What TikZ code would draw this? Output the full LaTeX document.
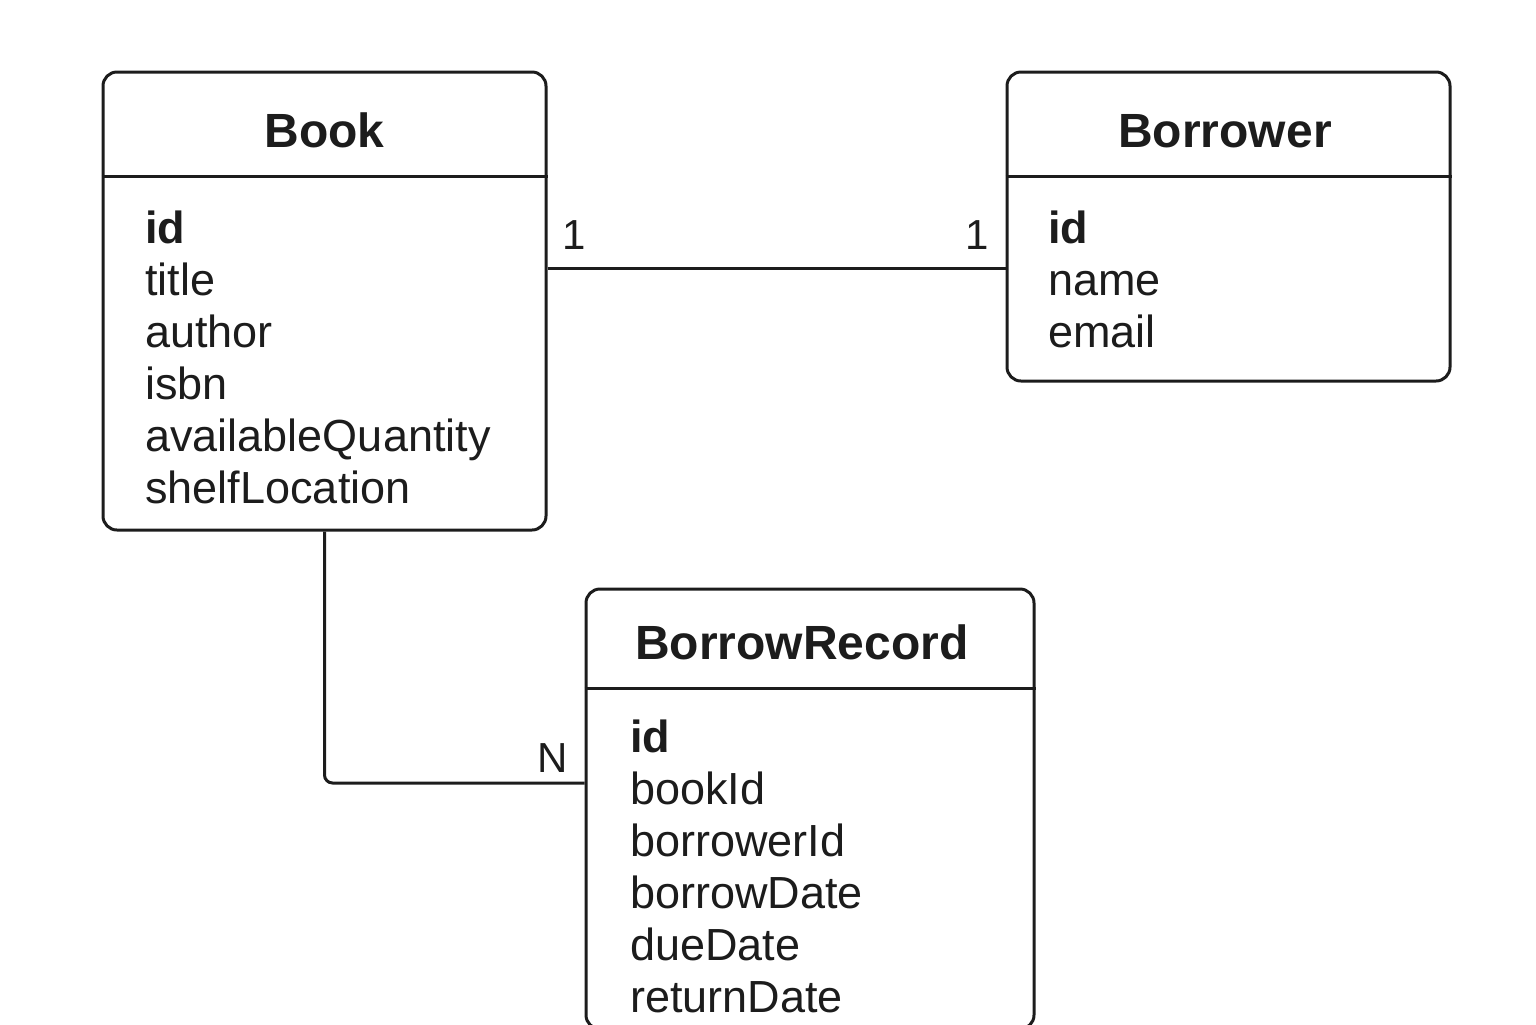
\documentclass[tikz,border=0pt]{standalone}
\usepackage{fontspec}
\setmainfont{Liberation Sans}
\usetikzlibrary{positioning}
\definecolor{ink}{HTML}{1C1C1C}
\tikzset{
	entity/.style={draw=ink, line width=1.5pt, rounded corners=7pt, inner sep=0pt},
	sepline/.style={draw=ink, line width=1.5pt},
	link/.style={draw=ink, line width=1.5pt},
	enttitle/.style={font=\fontsize{24}{28}\selectfont\bfseries, text=ink, anchor=base, inner sep=0pt},
	attr/.style={font=\fontsize{22.5}{26}\selectfont, text=ink, anchor=base west, inner sep=0pt},
	keyattr/.style={attr, font=\fontsize{22.5}{26}\selectfont\bfseries},
	card/.style={font=\fontsize{21}{24}\selectfont, text=ink, anchor=base, inner sep=0pt}
}

\begin{document}
\begin{tikzpicture}[x=0.5pt,y=-0.5pt]
	\useasboundingbox (0,0) rectangle (1536,1024);
	% Book
	\node[entity, minimum width=221.5pt, minimum height=229pt] (book) at (324.5,301) {};
	\draw[sepline] ([yshift=-53pt]book.north west)--([yshift=-53pt]book.north east);
	\node[enttitle] (bookname) at (324.5,147) {Book};
	\node[keyattr] (bookid) at (145,243) {id};
	\node[attr] (booktitle) at (145,295) {title};
	\node[attr] (bookauthor) at (145,347) {author};
	\node[attr] (bookisbn) at (145,399) {isbn};
	\node[attr] (bookqty) at (145,451) {availableQuantity};
	\node[attr] (bookshelf) at (145,503) {shelfLocation};
	% Borrower
	\node[entity, minimum width=221.5pt, minimum height=154.5pt] (borrower) at (1228.5,226.5) {};
	\draw[sepline] ([yshift=-53pt]borrower.north west)--([yshift=-53pt]borrower.north east);
	\node[enttitle] (borrowername) at (1225,147) {Borrower};
	\node[keyattr] (borrowerid) at (1048,243) {id};
	\node[attr] (borrowerfullname) at (1048,295) {name};
	\node[attr] (borroweremail) at (1048,347) {email};
	% BorrowRecord
	\node[entity, minimum width=224pt, minimum height=220pt] (record) at (810,809) {};
	\draw[sepline] ([yshift=-50.5pt]record.north west)--([yshift=-50.5pt]record.north east);
	\node[enttitle] (recordname) at (802,659) {BorrowRecord};
	\node[keyattr] (recordid) at (630,752) {id};
	\node[attr] (recordbook) at (630,804) {bookId};
	\node[attr] (recordborrower) at (630,856) {borrowerId};
	\node[attr] (recordborrow) at (630,908) {borrowDate};
	\node[attr] (recorddue) at (630,960) {dueDate};
	\node[attr] (recordreturn) at (630,1012) {returnDate};
	% relations
	\draw[link] ([yshift=16.5pt]book.east)--([yshift=16.5pt]book.east -| borrower.west);
	\draw[link, rounded corners=4pt] (book.south) |- ([yshift=13pt]record.west);
	\node[card] (bookone) at (574,249) {1};
	\node[card] (borrowerone) at (977,249) {1};
	\node[card] (recordmany) at (553,772) {N};
\end{tikzpicture}
\end{document}
